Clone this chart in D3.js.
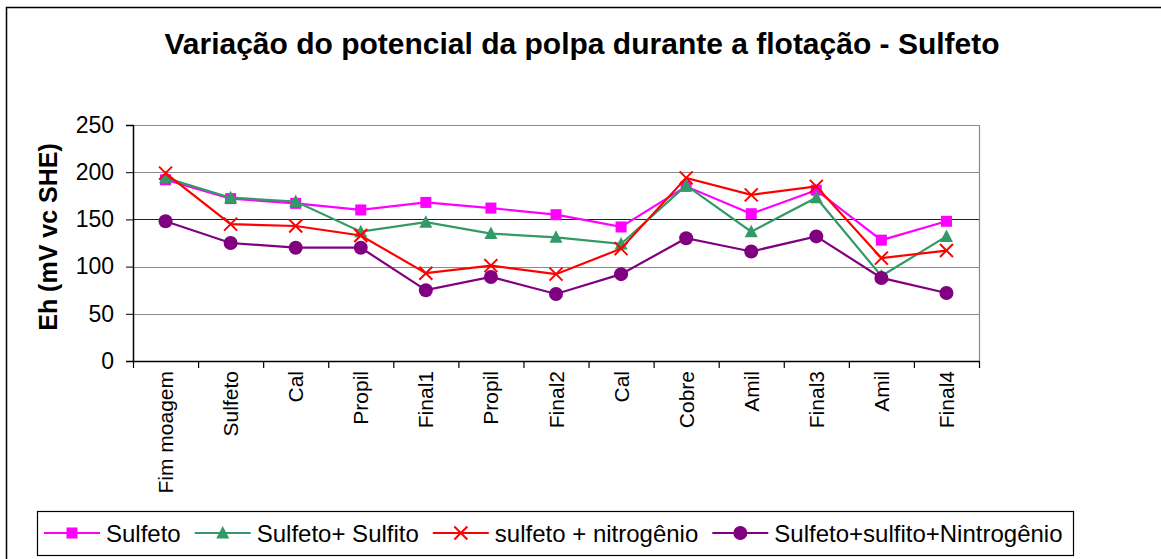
<!DOCTYPE html>
<html>
<head>
<meta charset="utf-8">
<script src="https://cdn.jsdelivr.net/npm/d3@7"></script>
<style>
  html, body { margin: 0; padding: 0; background: #fff; }
  svg { display: block; font-family: "Liberation Sans", Arial, sans-serif; }
</style>
</head>
<body>
<svg id="chart" width="1161" height="559"></svg>
<script>
// Flotation stages along the x axis
const categories = ["Fim moagem", "Sulfeto", "Cal", "Propil", "Final1", "Propil", "Final2",
                    "Cal", "Cobre", "Amil", "Final3", "Amil", "Final4"];

// Pulp potential Eh (mV vs SHE) for each test condition
const sulfeto              = [192, 172, 167, 160, 168, 162, 155, 142, 185, 156, 181, 128, 148];
const sulfetoSulfito       = [194, 173, 169, 137, 147, 135, 131, 124, 186, 137, 173, 90, 132];
const sulfetoNitrogenio    = [199, 145, 143, 133, 93, 101, 92, 119, 194, 176, 185, 109, 117];
const sulfetoSulfitoNitro  = [148, 125, 120, 120, 75, 89, 71, 92, 130, 116, 132, 88, 72];

const yTicks = [0, 50, 100, 150, 200, 250];

const series = [
  { name: "Sulfeto", values: sulfeto, color: "#ff00ff", marker: "square" },
  { name: "Sulfeto+ Sulfito", values: sulfetoSulfito, color: "#339966", marker: "triangle" },
  { name: "sulfeto + nitrogênio", values: sulfetoNitrogenio, color: "#ff0000", marker: "cross" },
  { name: "Sulfeto+sulfito+Nintrogênio", values: sulfetoSulfitoNitro, color: "#800080", marker: "circle" }
];

const svg = d3.select("#chart");
const plot = { left: 133, right: 979, top: 125, bottom: 361 };

// Outer chart frame
svg.append("rect")
  .attr("x", 6.5).attr("y", 7.5)
  .attr("width", 1200).attr("height", 600)
  .attr("fill", "none").attr("stroke", "#000").attr("stroke-width", 1.5);

// Title
svg.append("text")
  .attr("x", 582).attr("y", 54)
  .attr("text-anchor", "middle")
  .attr("font-size", 30).attr("font-weight", "bold")
  .text("Variação do potencial da polpa durante a flotação - Sulfeto");

const x = d3.scaleBand()
  .domain(d3.range(categories.length))
  .range([plot.left, plot.right])
  .padding(0);
const cx = i => x(i) + x.bandwidth() / 2;

const y = d3.scaleLinear().domain([0, 250]).range([plot.bottom, plot.top]);

// Horizontal gridlines
svg.append("g").selectAll("line")
  .data(yTicks.filter(t => t > 0))
  .join("line")
  .attr("x1", plot.left).attr("x2", plot.right)
  .attr("y1", d => Math.round(y(d)) + 0.5).attr("y2", d => Math.round(y(d)) + 0.5)
  .attr("stroke", d => d === 150 ? "#222" : "#8a8a8a")
  .attr("stroke-width", 1.2);

// Right border of plot area
svg.append("line")
  .attr("x1", plot.right + 0.5).attr("x2", plot.right + 0.5)
  .attr("y1", plot.top).attr("y2", plot.bottom)
  .attr("stroke", "#8a8a8a").attr("stroke-width", 1.2);

// Y axis
const yAxis = svg.append("g")
  .attr("transform", `translate(${plot.left},0)`)
  .call(d3.axisLeft(y).tickValues(yTicks).tickSize(7).tickPadding(12));
yAxis.selectAll("text").attr("font-size", 23).attr("fill", "#000")
  .attr("font-family", "Liberation Sans, Arial, sans-serif");
yAxis.selectAll("line").attr("stroke", "#000");
yAxis.select(".domain").attr("stroke", "#000").attr("stroke-width", 1.5);

// X axis: category labels centred in each band
const xAxis = svg.append("g")
  .attr("transform", `translate(0,${plot.bottom})`)
  .call(d3.axisBottom(x).tickFormat(i => categories[i]).tickSize(0));
xAxis.select(".domain").attr("stroke", "#000").attr("stroke-width", 1.5);
xAxis.selectAll("text")
  .attr("font-size", 21).attr("fill", "#000")
  .attr("font-family", "Liberation Sans, Arial, sans-serif")
  .attr("text-anchor", "end")
  .attr("transform", "rotate(-90)")
  .attr("x", -10).attr("y", 0).attr("dy", "0.36em");

// Tick marks on the band boundaries
svg.append("g").selectAll("line")
  .data(d3.range(categories.length + 1))
  .join("line")
  .attr("x1", i => (i < categories.length ? x(i) : plot.right) + 0.5)
  .attr("x2", i => (i < categories.length ? x(i) : plot.right) + 0.5)
  .attr("y1", plot.bottom).attr("y2", plot.bottom + 7)
  .attr("stroke", "#000").attr("stroke-width", 1.2);

// Y axis title
svg.append("text")
  .attr("transform", "translate(57,237) rotate(-90)")
  .attr("text-anchor", "middle")
  .attr("font-size", 25).attr("font-weight", "bold")
  .text("Eh (mV vc SHE)");

// Marker drawing helper
function drawMarker(g, type, color, px, py) {
  if (type === "square") {
    g.append("rect").attr("x", px - 5.5).attr("y", py - 5.5).attr("width", 11).attr("height", 11)
      .attr("fill", color);
  } else if (type === "triangle") {
    g.append("path")
      .attr("d", `M${px},${py - 7}L${px + 6.5},${py + 5.5}L${px - 6.5},${py + 5.5}Z`)
      .attr("fill", color);
  } else if (type === "cross") {
    g.append("path")
      .attr("d", `M${px - 6.5},${py - 6.5}L${px + 6.5},${py + 6.5}M${px - 6.5},${py + 6.5}L${px + 6.5},${py - 6.5}`)
      .attr("stroke", color).attr("stroke-width", 2).attr("fill", "none");
  } else {
    g.append("circle").attr("cx", px).attr("cy", py).attr("r", 7).attr("fill", color);
  }
}

const line = d3.line().x((d, i) => cx(i)).y(d => y(d));

series.forEach(s => {
  const g = svg.append("g");
  g.append("path")
    .datum(s.values)
    .attr("d", line)
    .attr("fill", "none")
    .attr("stroke", s.color)
    .attr("stroke-width", 2.2);
  s.values.forEach((v, i) => drawMarker(g, s.marker, s.color, cx(i), y(v)));
});

// Legend
const legend = svg.append("g");
legend.append("rect")
  .attr("x", 37.5).attr("y", 511.5).attr("width", 1036).attr("height", 44)
  .attr("fill", "#fff").attr("stroke", "#000").attr("stroke-width", 1.2);

let lx = 44;
const ly = 533;
series.forEach(s => {
  const g = legend.append("g");
  g.append("line").attr("x1", lx).attr("x2", lx + 56).attr("y1", ly).attr("y2", ly)
    .attr("stroke", s.color).attr("stroke-width", 2.2);
  drawMarker(g, s.marker, s.color, lx + 28, ly);
  const t = g.append("text")
    .attr("x", lx + 62).attr("y", ly).attr("dy", "0.36em")
    .attr("font-size", 24)
    .text(s.name);
  lx += 62 + t.node().getComputedTextLength() + 14;
});
</script>
</body>
</html>
